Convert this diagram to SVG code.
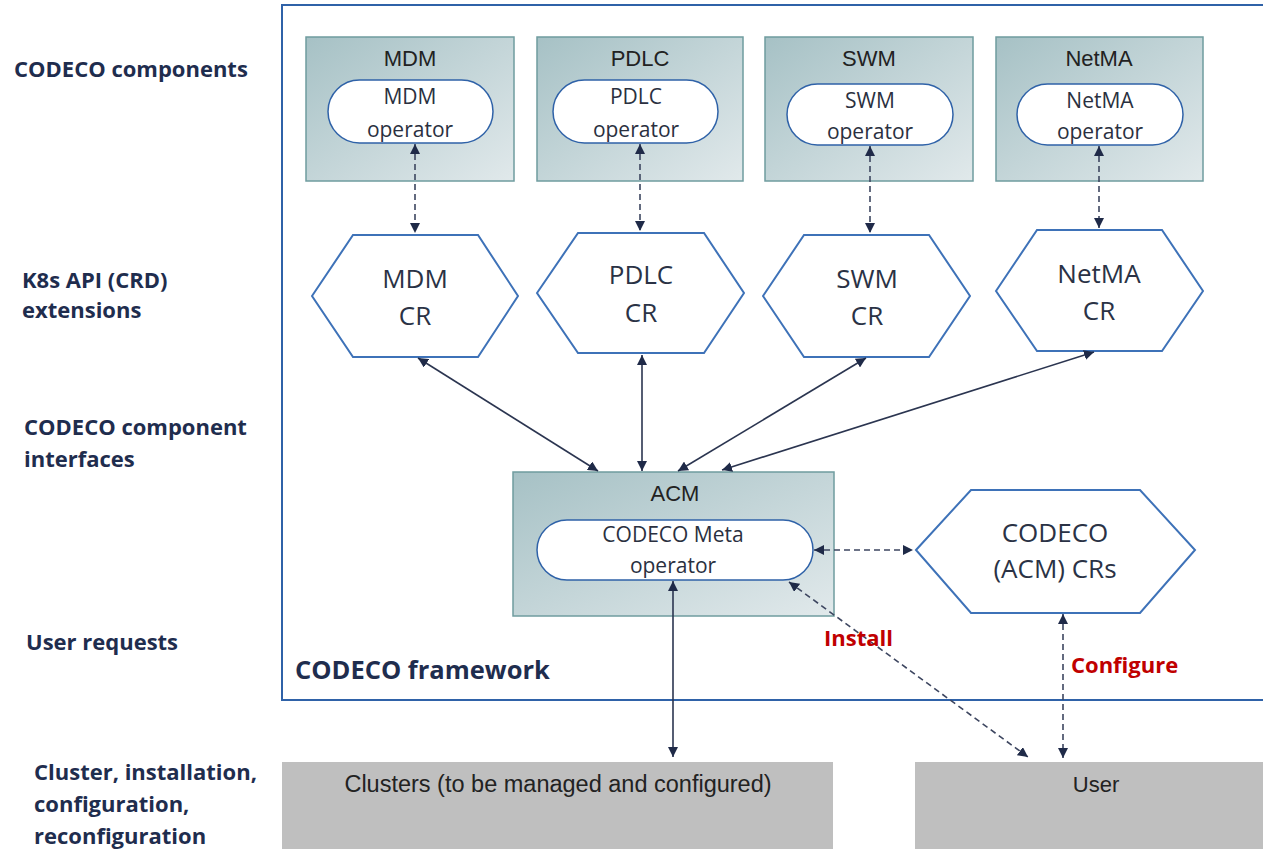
<svg xmlns="http://www.w3.org/2000/svg" width="1263" height="849" viewBox="0 0 1263 849">
  <defs>
    <linearGradient id="teal" x1="0" y1="0" x2="1" y2="1">
      <stop offset="0" stop-color="#a6c1c5"/>
      <stop offset="1" stop-color="#e1e9eb"/>
    </linearGradient>
    <marker id="ah" viewBox="0 0 10 10" refX="10" refY="5" markerWidth="10" markerHeight="10" markerUnits="userSpaceOnUse" orient="auto-start-reverse">
      <path d="M0,0 L10,5 L0,10 z" fill="#1f2a48"/>
    </marker>
    <style>
      .side { font-family: "Open Sans", "Liberation Sans", sans-serif; font-weight: bold; font-size: 22px; fill: #1f2d4e; }
      .comp { fill: url(#teal); stroke: #6f9c9f; stroke-width: 1.5; }
      .ctitle { font-family: "Liberation Sans", Arial, sans-serif; font-size: 22px; fill: #222; text-anchor: middle; }
      .pill { fill: #fff; stroke: #2f62a8; stroke-width: 1.5; }
      .ptext { font-family: "Open Sans", "Liberation Sans", sans-serif; font-size: 21px; fill: #2a3040; text-anchor: middle; }
      .hex { fill: #fff; stroke: #3e72b8; stroke-width: 2; }
      .htext { font-family: "Open Sans", "Liberation Sans", sans-serif; font-size: 26px; fill: #2a3245; text-anchor: middle; }
      .solid { stroke: #2b3550; stroke-width: 1.6; fill: none; marker-start: url(#ah); marker-end: url(#ah); }
      .dash { stroke: #3d4660; stroke-width: 1.6; fill: none; stroke-dasharray: 6 4; marker-start: url(#ah); marker-end: url(#ah); }
      .red { font-family: "Open Sans", "Liberation Sans", sans-serif; font-weight: bold; font-size: 22px; fill: #c00000; }
      .gray { fill: #bfbfbf; }
      .gtext { font-family: "Liberation Sans", Arial, sans-serif; font-size: 22px; fill: #222; text-anchor: middle; }
      .big { font-size: 23.5px; }
    </style>
  </defs>

  <rect width="1263" height="849" fill="#fff"/>

  <!-- side labels -->
  <g id="side-labels">
    <text class="side" x="14" y="77">CODECO components</text>
    <text class="side" x="22" y="288">K8s API (CRD)</text>
    <text class="side" x="22" y="318">extensions</text>
    <text class="side" x="24" y="435">CODECO component</text>
    <text class="side" x="24" y="467">interfaces</text>
    <text class="side" x="26" y="650">User requests</text>
    <text class="side" x="34" y="780">Cluster, installation,</text>
    <text class="side" x="34" y="812">configuration,</text>
    <text class="side" x="34" y="844">reconfiguration</text>
  </g>

  <!-- framework -->
  <g id="framework">
    <rect x="282" y="5" width="990" height="695" fill="none" stroke="#2f62a8" stroke-width="2"/>
    <text x="295" y="679" font-family="Open Sans, Liberation Sans, sans-serif" font-weight="bold" font-size="25.5" fill="#1f2d4e">CODECO framework</text>
  </g>

  <!-- components -->
  <g id="mdm">
    <rect class="comp" x="306" y="37" width="208" height="144"/>
    <text class="ctitle" x="410" y="66">MDM</text>
    <rect class="pill" x="328" y="80" width="165" height="63" rx="31.5"/>
    <text class="ptext" x="410" y="104">MDM</text>
    <text class="ptext" x="410" y="137">operator</text>
  </g>
  <g id="pdlc">
    <rect class="comp" x="537" y="37" width="206" height="144"/>
    <text class="ctitle" x="640" y="66">PDLC</text>
    <rect class="pill" x="553" y="80" width="165" height="63" rx="31.5"/>
    <text class="ptext" x="636" y="104">PDLC</text>
    <text class="ptext" x="636" y="137">operator</text>
  </g>
  <g id="swm">
    <rect class="comp" x="765" y="37" width="208" height="144"/>
    <text class="ctitle" x="869" y="66">SWM</text>
    <rect class="pill" x="787" y="84" width="166" height="61" rx="30.5"/>
    <text class="ptext" x="870" y="108">SWM</text>
    <text class="ptext" x="870" y="139">operator</text>
  </g>
  <g id="netma">
    <rect class="comp" x="996" y="37" width="207" height="144"/>
    <text class="ctitle" x="1099" y="66">NetMA</text>
    <rect class="pill" x="1017" y="84" width="166" height="61" rx="30.5"/>
    <text class="ptext" x="1100" y="108">NetMA</text>
    <text class="ptext" x="1100" y="139">operator</text>
  </g>

  <!-- CRs -->
  <g id="mdm-cr">
    <polygon class="hex" points="312,296 353,235 478,235 518,296 478,357 353,357"/>
    <text class="htext" x="415" y="288">MDM</text>
    <text class="htext" x="415" y="325">CR</text>
  </g>
  <g id="pdlc-cr">
    <polygon class="hex" points="537,293 578,233 704,233 744,293 704,353 578,353"/>
    <text class="htext" x="641" y="284">PDLC</text>
    <text class="htext" x="641" y="322">CR</text>
  </g>
  <g id="swm-cr">
    <polygon class="hex" points="763,296 804,235 929,235 970,296 929,357 804,357"/>
    <text class="htext" x="867" y="288">SWM</text>
    <text class="htext" x="867" y="325">CR</text>
  </g>
  <g id="netma-cr">
    <polygon class="hex" points="996,291 1037,230 1162,230 1203,291 1162,351 1037,351"/>
    <text class="htext" x="1099" y="283">NetMA</text>
    <text class="htext" x="1099" y="320">CR</text>
  </g>

  <!-- ACM -->
  <g id="acm">
    <rect class="comp" x="513" y="472" width="321" height="144"/>
    <text class="ctitle" x="675" y="501">ACM</text>
    <rect class="pill" x="537" y="520" width="276" height="60" rx="30"/>
    <text class="ptext" x="673" y="542">CODECO Meta</text>
    <text class="ptext" x="673" y="573">operator</text>
  </g>

  <g id="acm-crs">
    <polygon class="hex" points="916,550 971,490 1140,490 1195,550 1140,613 971,613"/>
    <text class="htext" x="1055" y="542">CODECO</text>
    <text class="htext" x="1055" y="578">(ACM) CRs</text>
  </g>

  <!-- bottom boxes -->
  <g id="clusters">
    <rect class="gray" x="282" y="762" width="551" height="90"/>
    <text class="gtext big" x="558" y="792">Clusters (to be managed and configured)</text>
  </g>
  <g id="user">
    <rect class="gray" x="915" y="762" width="350" height="90"/>
    <text class="gtext" x="1096" y="792">User</text>
  </g>

  <!-- connectors -->
  <g id="connectors">
    <line class="dash" x1="415" y1="144" x2="415" y2="233"/>
    <line class="dash" x1="640" y1="144" x2="640" y2="231"/>
    <line class="dash" x1="870" y1="146" x2="870" y2="233"/>
    <line class="dash" x1="1099" y1="146" x2="1099" y2="228"/>

    <line class="solid" x1="418" y1="358" x2="598" y2="471"/>
    <line class="solid" x1="642" y1="355" x2="642" y2="471"/>
    <line class="solid" x1="866" y1="358" x2="678" y2="471"/>
    <line class="solid" x1="1094" y1="352" x2="722" y2="470"/>

    <line class="solid" x1="673" y1="581" x2="673" y2="757"/>
    <line class="dash" x1="814" y1="550" x2="913" y2="550"/>
    <line class="dash" x1="789" y1="582" x2="1028" y2="757"/>
    <line class="dash" x1="1063" y1="614" x2="1063" y2="758"/>

    <text class="red" x="824" y="646">Install</text>
    <text class="red" x="1071" y="673">Configure</text>
  </g>
</svg>
